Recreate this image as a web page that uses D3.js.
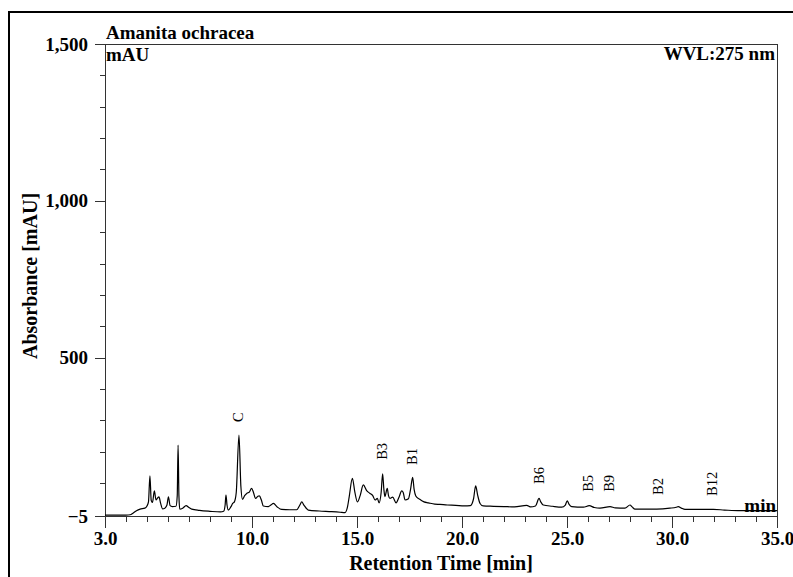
<!DOCTYPE html>
<html>
<head>
<meta charset="utf-8">
<script src="https://cdn.jsdelivr.net/npm/d3@7"></script>
<style>
	body { margin: 0; background: #fff; }
	svg { display: block; font-family: "Liberation Serif", "DejaVu Serif", serif; }
	.axis { font-family: "Liberation Serif", "DejaVu Serif", serif; }
	.axis path, .axis line { stroke: #333; shape-rendering: crispEdges; }
	.axis text { font-size: 19px; font-weight: bold; fill: #000; }
	.trace { fill: none; stroke: #000; stroke-width: 1.2; }
	.peakLabel { font-size: 14.5px; fill: #000; }
</style>
</head>
<body>
<svg id="chart" width="793" height="577"></svg>
<script>
// retention time [min] / absorbance [mAU]
var retTime = [3.0, 3.5, 4.0, 4.2, 4.33, 4.5, 4.67, 4.9, 5.0, 5.07, 5.14, 5.2, 5.26, 5.35, 5.43, 5.5, 5.57, 5.65, 5.74, 5.85,
	5.95, 6.02, 6.1, 6.2, 6.38, 6.44, 6.48, 6.52, 6.56, 6.7, 6.86, 7.0, 7.13, 7.5, 8.0, 8.5, 8.65, 8.72, 8.76, 8.81,
	8.87, 9.0, 9.08, 9.16, 9.25, 9.38, 9.47, 9.55, 9.65, 9.75, 9.88, 9.98, 10.07, 10.17, 10.28, 10.35, 10.45, 10.54, 10.78, 10.9,
	11.02, 11.2, 11.41, 11.8, 12.13, 12.28, 12.37, 12.47, 12.68, 13.2, 13.79, 14.2, 14.43, 14.55, 14.63, 14.78, 14.9, 15.02, 15.15, 15.3,
	15.46, 15.62, 15.75, 15.86, 15.97, 16.05, 16.15, 16.22, 16.28, 16.33, 16.44, 16.5, 16.57, 16.7, 16.86, 17.0, 17.13, 17.2, 17.29, 17.45,
	17.55, 17.65, 17.72, 17.8, 17.97, 18.19, 18.4, 18.7, 18.95, 19.3, 19.7, 20.1, 20.4, 20.55, 20.65, 20.75, 20.86, 21.01, 21.5, 22.0,
	22.5, 23.08, 23.25, 23.5, 23.67, 23.75, 23.87, 24.3, 24.75, 24.92, 25.01, 25.1, 25.22, 25.78, 26.06, 26.3, 26.57, 27.05, 27.3, 27.76,
	28.0, 28.1, 28.24, 29.27, 29.9, 30.2, 30.3, 30.45, 30.62, 31.97, 32.5, 33.24, 34.0, 35.0];
var absorb = [-2, -2, -2, -1, 4, 12, 17, 20, 27, 40, 123, 45, 38, 75, 46, 52, 56, 35, 18, 20,
	30, 56, 28, 25, 26, 60, 221, 60, 17, 20, 28, 22, 17, 13, 10, 8, 10, 30, 62, 30,
	14, 25, 35, 40, 70, 253, 90, 48, 60, 67, 72, 83, 70, 51, 58, 59, 45, 27, 25, 30,
	35, 24, 16, 15, 15, 30, 40, 30, 14, 11, 9, 7, 6, 25, 57, 115, 70, 40, 60, 94,
	76, 67, 60, 46, 51, 37, 70, 129, 80, 57, 83, 60, 51, 55, 37, 55, 75, 70, 46, 50,
	80, 118, 80, 59, 49, 40, 37, 33, 32, 30, 29, 27, 28, 50, 91, 60, 35, 27, 26, 25,
	24, 29, 24, 27, 51, 40, 30, 26, 23, 30, 43, 32, 25, 23, 28, 22, 20, 25, 21, 20,
	30, 24, 17, 17, 20, 23, 25, 20, 16, 16, 14, 12, 12, 12];

// peak names, where they sit and how high the label starts
var peakNames = ["C", "B3", "B1", "B6", "B5", "B9", "B2", "B12"];
var peakTimes = [9.33, 16.21, 17.62, 23.64, 26.0, 27.02, 29.33, 31.9];
var peakLabelAt = [295, 174, 158, 97, 72, 72, 62, 59];

// axis ticks
var xMajor = [3, 10, 15, 20, 25, 30, 35];
var yMajor = [-5, 500, 1000, 1500];

(function() {
	"use strict";

	var svg = d3.select("#chart");

	var plotL = 105, plotR = 777, plotT = 44, plotB = 516;

	var xScale = d3.scaleLinear().domain([3, 35]).range([plotL, plotR]);
	var yScale = d3.scaleLinear().domain([-5, 1500]).range([plotB, plotT]);

	// outer figure frame (left + top only)
	svg.append("path")
		.attr("d", "M9,577V12H793")
		.attr("fill", "none")
		.attr("stroke", "#000")
		.attr("stroke-width", 2);

	// plot box: top and right
	svg.append("path")
		.attr("d", "M" + plotL + "," + plotT + "H" + plotR + "V" + plotB)
		.attr("fill", "none")
		.attr("stroke", "#333")
		.attr("shape-rendering", "crispEdges");

	//************ AXES ************

	var xMinor = d3.range(4, 35).filter(function(d) { return xMajor.indexOf(d) < 0; });
	var yMinor = d3.range(100, 1500, 100).filter(function(d) { return yMajor.indexOf(d) < 0; });

	svg.append("g").attr("class", "axis")
		.attr("transform", "translate(0," + plotB + ")")
		.call(d3.axisBottom(xScale).tickValues(xMinor).tickSize(6).tickFormat("").tickSizeOuter(0));

	svg.append("g").attr("class", "axis")
		.attr("transform", "translate(0," + plotB + ")")
		.call(d3.axisBottom(xScale).tickValues(xMajor).tickSize(12).tickPadding(4).tickFormat(d3.format(".1f")).tickSizeOuter(0));

	svg.append("g").attr("class", "axis")
		.attr("transform", "translate(" + plotL + ",0)")
		.call(d3.axisLeft(yScale).tickValues(yMinor).tickSize(5).tickFormat("").tickSizeOuter(0));

	svg.append("g").attr("class", "axis")
		.attr("transform", "translate(" + plotL + ",0)")
		.call(d3.axisLeft(yScale).tickValues(yMajor).tickSize(10).tickPadding(7).tickFormat(d3.format(",")).tickSizeOuter(0));

	// axis titles
	svg.append("text")
		.attr("x", (plotL + plotR) / 2)
		.attr("y", 570)
		.attr("text-anchor", "middle")
		.attr("font-size", 20).attr("font-weight", "bold")
		.text("Retention Time [min]");

	svg.append("text")
		.attr("transform", "translate(37,276) rotate(-90)")
		.attr("text-anchor", "middle")
		.attr("font-size", 20).attr("font-weight", "bold")
		.text("Absorbance [mAU]");

	// header texts
	svg.append("text").attr("x", 106).attr("y", 39)
		.attr("font-size", 19).attr("font-weight", "bold").text("Amanita ochracea");
	svg.append("text").attr("x", 106).attr("y", 61)
		.attr("font-size", 19).attr("font-weight", "bold").text("mAU");
	svg.append("text").attr("x", plotR - 2).attr("y", 60).attr("text-anchor", "end")
		.attr("font-size", 19).attr("font-weight", "bold").text("WVL:275 nm");
	svg.append("text").attr("x", plotR - 1).attr("y", 512).attr("text-anchor", "end")
		.attr("font-size", 19).attr("font-weight", "bold").text("min");

	//************ TRACE ************

	var points = retTime.map(function(t, i) { return [t, absorb[i]]; });

	var line = d3.line()
		.x(function(d) { return xScale(d[0]); })
		.y(function(d) { return yScale(d[1]); })
		.curve(d3.curveMonotoneX);

	svg.append("path")
		.datum(points)
		.attr("class", "trace")
		.attr("d", line);

	// peak labels, rotated, reading bottom to top
	svg.selectAll(".peakLabel")
		.data(peakNames)
		.enter()
		.append("text")
		.attr("class", "peakLabel")
		.attr("transform", function(d, i) {
			return "translate(" + xScale(peakTimes[i]) + "," + yScale(peakLabelAt[i]) + ") rotate(-90)";
		})
		.attr("dy", "0.35em")
		.text(function(d) { return d; });
}());
</script>
</body>
</html>
